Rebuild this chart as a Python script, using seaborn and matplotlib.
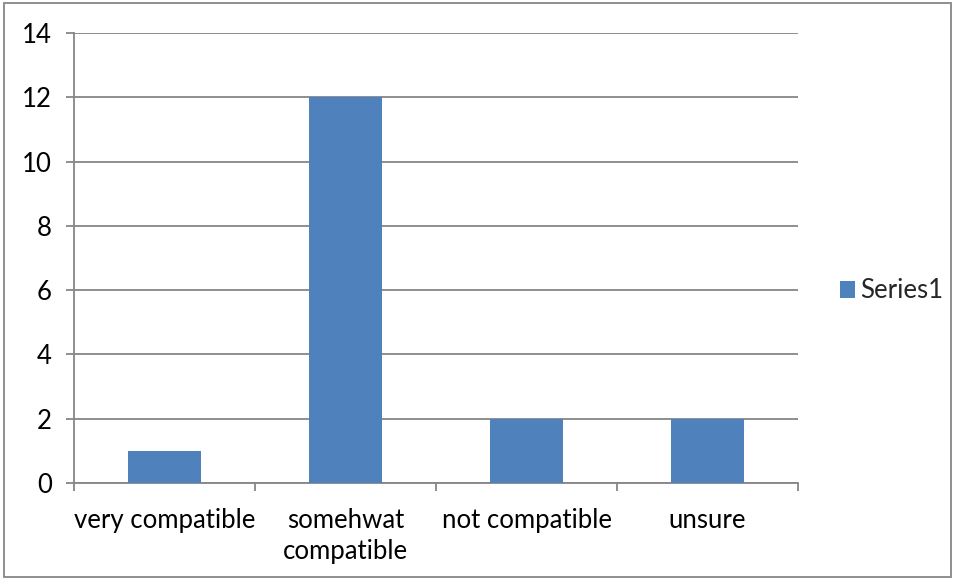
import numpy as np
import pandas as pd
import seaborn as sns
from matplotlib import pyplot as plt
from matplotlib.patches import Patch, Rectangle

categories = ["very compatible", "somehwat\ncompatible", "not compatible", "unsure"]
series1 = [1, 12, 2, 2]
y_ticks = [0, 2, 4, 6, 8, 10, 12, 14]

BLUE = "#4F81BD"
GRID = "#868686"
FS = 18.5

sns.set_theme(style="white")
plt.rcParams["font.family"] = ["Lato", "DejaVu Sans"]

df = pd.DataFrame({"category": categories, "value": series1})

fig = plt.figure(figsize=(9.56, 5.8), dpi=100)
ax = fig.add_axes([74 / 956, 1 - 483 / 580, (798 - 74) / 956, (483 - 33) / 580])

sns.barplot(data=df, x="category", y="value", color=BLUE, saturation=1,
            width=0.4, linewidth=0, ax=ax, zorder=3)

ax.set_xlim(-0.5, len(categories) - 0.5)
ax.set_ylim(0, 14)
ax.set_yticks(y_ticks)
ax.yaxis.grid(True, color=GRID, linewidth=1.3, zorder=0)
ax.set_axisbelow(True)
ax.set_xlabel("")
ax.set_ylabel("")

for s in ["top", "right"]:
    ax.spines[s].set_visible(False)
for s in ["left", "bottom"]:
    ax.spines[s].set_color(GRID)
    ax.spines[s].set_linewidth(1.3)

# tick marks at category boundaries, labels at centres
ax.set_xticks(np.arange(-0.5, len(categories)), minor=True)
ax.tick_params(axis="x", which="major", length=0, pad=18, labelsize=FS, labelcolor="black")
ax.tick_params(axis="x", which="minor", length=6, width=1.3, color=GRID, direction="out", bottom=True)
ax.tick_params(axis="y", length=6, width=1.3, color=GRID, direction="out", left=True,
               pad=10, labelsize=FS, labelcolor="black")
for lbl in ax.get_xticklabels():
    lbl.set_linespacing(1.3)

handles = [Patch(facecolor=BLUE, edgecolor="none", label="Series1")]
fig.legend(handles=handles, loc="center left", bbox_to_anchor=(840 / 956, 1 - 291 / 580),
           frameon=False, fontsize=FS, handlelength=0.6, handleheight=0.6,
           handletextpad=0.2, borderpad=0, borderaxespad=0)

fig.patches.append(Rectangle((4 / 956, 3 / 580), 947 / 956, 574 / 580,
                             transform=fig.transFigure, fill=False,
                             edgecolor=GRID, linewidth=1.3))

fig.savefig("out.png", dpi=100)
